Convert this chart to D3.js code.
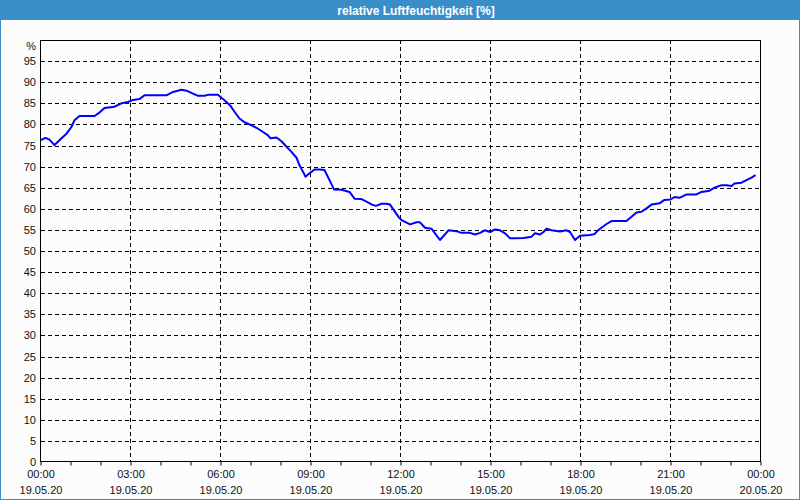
<!DOCTYPE html>
<html><head><meta charset="utf-8">
<script src="https://cdn.jsdelivr.net/npm/d3@7"></script>
<style>
html,body{margin:0;padding:0;background:#fff;}
svg{display:block;}
text{font-family:"Liberation Sans",Arial,sans-serif;}
</style></head>
<body><svg id="c" width="800" height="500"></svg>
<script>
const title = "relative Luftfeuchtigkeit [%]";
const unitLabel = "%";
// minutes since 19.05.20 00:00
const times = [0,9,17,27,41,51,61,67,77,107,117,127,147,161,174,184,197,207,251,264,281,291,304,313,327,334,354,359,367,379,387,397,407,417,431,444,454,459,471,481,491,501,511,517,524,529,537,547,557,567,577,586,601,617,627,641,651,662,670,681,691,698,705,715,721,738,751,758,768,781,788,798,815,831,841,858,868,878,888,898,908,918,928,938,948,965,981,988,998,1005,1011,1021,1038,1051,1058,1068,1078,1098,1107,1114,1121,1131,1141,1171,1181,1191,1201,1211,1221,1237,1247,1259,1267,1277,1291,1311,1321,1337,1347,1361,1371,1381,1387,1401,1411,1421,1429];
const humidity = [76.3,76.8,76.4,75.1,76.7,77.8,79.4,81.0,82.0,82.0,82.8,83.9,84.2,85.0,85.3,85.8,86.0,86.9,86.9,87.7,88.2,88.0,87.3,86.8,86.8,87.0,87.0,86.5,85.7,84.4,83.0,81.4,80.5,80.0,79.2,78.2,77.4,76.7,76.9,76.0,74.7,73.5,72.1,70.3,68.8,67.6,68.4,69.3,69.3,69.2,66.8,64.6,64.5,64.0,62.4,62.3,61.7,61.0,60.7,61.2,61.2,61.0,59.8,58.1,57.3,56.3,56.8,56.8,55.5,55.3,54.2,52.6,54.9,54.7,54.3,54.3,53.9,54.3,54.9,54.5,55.1,54.9,54.2,53.0,53.0,53.1,53.4,54.2,53.9,54.5,55.3,54.9,54.6,54.9,54.5,52.6,53.6,53.8,54.0,54.9,55.5,56.4,57.1,57.1,58.1,59.1,59.3,60.1,61.0,61.3,62.1,62.2,62.8,62.6,63.4,63.4,64.0,64.3,65.0,65.6,65.6,65.4,66.0,66.2,66.8,67.4,68.0];
const xTickMinutes = [0,180,360,540,720,900,1080,1260,1440];
const xTickTimeLabels = ["00:00","03:00","06:00","09:00","12:00","15:00","18:00","21:00","00:00"];
const xTickDateLabels = ["19.05.20","19.05.20","19.05.20","19.05.20","19.05.20","19.05.20","19.05.20","19.05.20","20.05.20"];
const yTicks = [0,5,10,15,20,25,30,35,40,45,50,55,60,65,70,75,80,85,90,95];

const svg = d3.select("#c");
const W = 800, H = 500;
const L = 41, R = 761, T = 40, B = 462;
const x = d3.scaleLinear().domain([0,1440]).range([L,R]);
const y = d3.scaleLinear().domain([0,100]).range([B,T]);

svg.append("rect").attr("x",0).attr("y",0).attr("width",W).attr("height",H).attr("fill","#fbfcfb");
svg.append("rect").attr("x",0.5).attr("y",0.5).attr("width",W-1).attr("height",H-1).attr("fill","none").attr("stroke","#3a8ec8");
svg.append("rect").attr("x",0).attr("y",0).attr("width",W).attr("height",20).attr("fill","#3a8ec8");
svg.append("text").attr("x",416).attr("y",15).attr("text-anchor","middle")
  .attr("fill","#fff").attr("font-size","12px").attr("font-weight","bold").text(title);

// grid
const g = svg.append("g");
g.selectAll(".hg").data(yTicks.filter(d=>d>0)).enter().append("line")
  .attr("x1",L).attr("x2",R).attr("y1",d=>Math.round(y(d))+0.5).attr("y2",d=>Math.round(y(d))+0.5)
  .attr("stroke","#000").attr("stroke-dasharray","4,3");
g.selectAll(".vg").data(xTickMinutes.filter(d=>d>0&&d<1440)).enter().append("line")
  .attr("y1",T).attr("y2",B).attr("x1",d=>Math.round(x(d))-0.5).attr("x2",d=>Math.round(x(d))-0.5)
  .attr("stroke","#000").attr("stroke-dasharray","4,3");

// frame
svg.append("rect").attr("x",L-0.5).attr("y",T+0.5).attr("width",R-L).attr("height",B-T-1)
  .attr("fill","none").attr("stroke","#000");

// x ticks hourly
const xAxis = d3.axisBottom(x).tickValues(d3.range(0,1441,60)).tickSize(4).tickFormat("");
const ax = svg.append("g").attr("transform",`translate(-0.5,${B-0.5})`).call(xAxis);
ax.select(".domain").remove();
ax.selectAll("line").attr("stroke","#000");

// x labels
const xl = svg.append("g");
xl.selectAll(".t1").data(xTickMinutes).enter().append("text")
  .attr("x",d=>x(d)).attr("y",478).attr("text-anchor","middle").attr("font-size","11px").attr("fill","#111")
  .text((d,i)=>xTickTimeLabels[i]);
xl.selectAll(".t2").data(xTickMinutes).enter().append("text")
  .attr("x",d=>x(d)).attr("y",494).attr("text-anchor","middle").attr("font-size","11px").attr("fill","#111")
  .text((d,i)=>xTickDateLabels[i]);

// y labels
svg.selectAll(".yl").data(yTicks).enter().append("text")
  .attr("x",36).attr("y",d=>y(d)+4).attr("text-anchor","end").attr("font-size","11px").attr("fill","#111")
  .text(d=>d);
svg.append("text").attr("x",36).attr("y",50).attr("text-anchor","end").attr("font-size","11px").attr("fill","#111").text(unitLabel);

// line
const data = times.map((t,i)=>({t, v:humidity[i]}));
svg.append("path").datum(data)
  .attr("d", d3.line().x(d=>x(d.t)).y(d=>y(d.v)))
  .attr("fill","none").attr("stroke","#0000ff").attr("stroke-width",2).attr("stroke-linejoin","round");
</script></body></html>
